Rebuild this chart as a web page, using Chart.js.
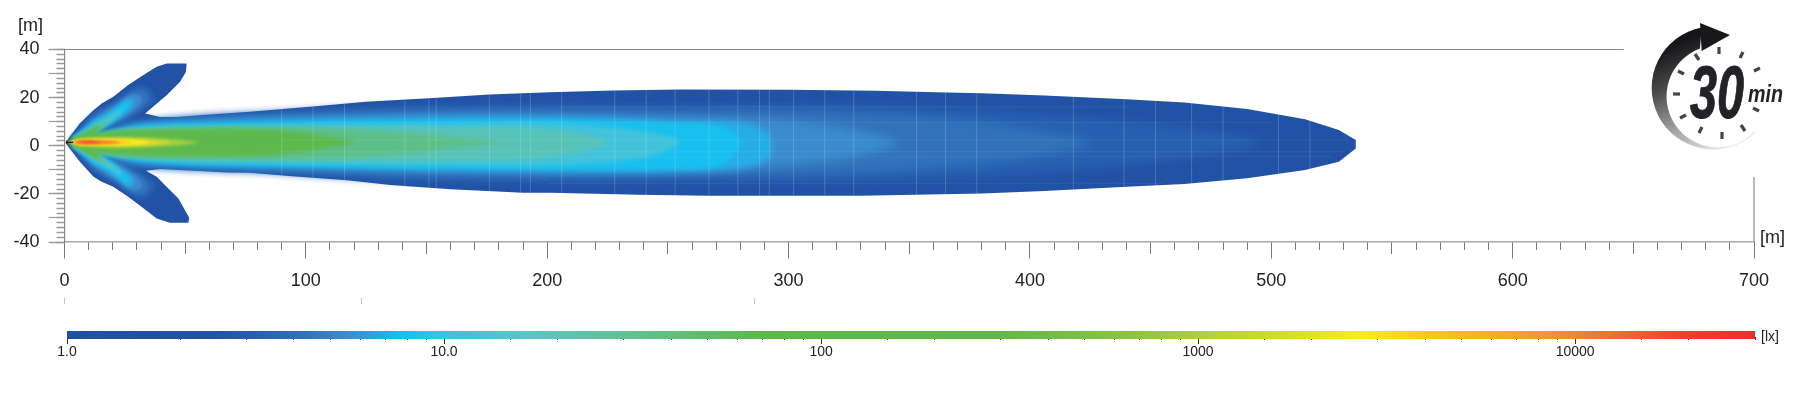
<!DOCTYPE html>
<html>
<head>
<meta charset="utf-8">
<title>Isolux 30 min</title>
<script src="https://cdn.jsdelivr.net/npm/chart.js@4"></script>
<style>
  html, body { margin: 0; padding: 0; background: #fff; }
  body { width: 1800px; height: 408px; position: relative; overflow: hidden; font-family: "Liberation Sans", Arial, sans-serif; color: #222; }
  canvas { position: absolute; left: 0; }
  #beam { top: 0; }
  #bar { top: 320px; }
  .unit { position: absolute; font-size: 18px; line-height: 20px; }
  .mark { position: absolute; top: 298px; width: 1px; height: 6px; background: #c4c4c4; }
  svg { position: absolute; left: 0; top: 0; }
</style>
</head>
<body>
<canvas id="beam" width="1800" height="408"></canvas>
<canvas id="bar" width="1800" height="50"></canvas>

<div class="unit" style="left:18px;top:15px">[m]</div>
<div class="unit" style="left:1760px;top:227px">[m]</div>
<div class="unit" style="left:1761px;top:329px;font-size:14px;line-height:15px">[lx]</div>
<div class="mark" style="left:64px"></div>
<div class="mark" style="left:361px"></div>
<div class="mark" style="left:754px"></div>

<!-- 30 min logo -->
<svg width="1800" height="408">
  <defs>
    <linearGradient id="sweep" gradientUnits="userSpaceOnUse" x1="1695" y1="35" x2="1745" y2="150">
      <stop offset="0" stop-color="#151517"/>
      <stop offset="0.3" stop-color="#4a4a4c"/>
      <stop offset="0.55" stop-color="#8d8d8d"/>
      <stop offset="0.85" stop-color="#d4d4d4"/>
      <stop offset="1" stop-color="#fafafa"/>
    </linearGradient>
  </defs>
  <path d="M1755,133 A61.5,61.5 0 1 1 1701.7,27.5 L1700,48.5 A51,51 0 1 0 1755,131 Z" fill="url(#sweep)"/>
  <polygon points="1700,23 1730,35 1701.7,51" fill="#18181b"/>
  <g stroke="#444" stroke-width="3.2">
    <line x1="1719" y1="47" x2="1719" y2="54"/>
    <line x1="1743" y1="52" x2="1740" y2="58"/>
    <line x1="1760" y1="68" x2="1754" y2="71"/>
    <line x1="1759" y1="111" x2="1753" y2="108"/>
    <line x1="1745" y1="131" x2="1741" y2="125"/>
    <line x1="1722" y1="139" x2="1722" y2="132"/>
    <line x1="1699" y1="133" x2="1702" y2="127"/>
    <line x1="1680" y1="118" x2="1686" y2="115"/>
    <line x1="1673" y1="94" x2="1680" y2="94"/>
    <line x1="1678" y1="71" x2="1684" y2="74"/>
    <line x1="1695" y1="54" x2="1699" y2="60"/>
  </g>
  <text x="1690" y="118" font-family="'Liberation Sans Narrow','Liberation Sans'" font-weight="700" font-style="italic" font-size="74" textLength="54" lengthAdjust="spacingAndGlyphs" fill="#232327" stroke="#232327" stroke-width="1">30</text>
  <text x="1748" y="102" font-family="'Liberation Sans Narrow','Liberation Sans'" font-weight="700" font-style="italic" font-size="24" textLength="35" lengthAdjust="spacingAndGlyphs" fill="#232327">min</text>
</svg>

<script>
// axis ticks
const xTicks = [0, 100, 200, 300, 400, 500, 600, 700];
const yTicks = [-40, -20, 0, 20, 40];
const luxTicks = [1, 10, 100, 1000, 10000];
const luxLabels = ['1.0', '10.0', '100', '1000', '10000'];

// frame lines that stop short of the plot edges
const topLine = [[0, 40], [646, 40]];
const rightLine = [[700, -40], [700, -13]];

// colour bar
const luxStops = [1, 2.5, 4, 5.5, 7.7, 10, 17, 40, 70, 300, 700, 1100, 2000, 2700, 4000, 8000, 12000, 20000, 30000];
const luxColors = ['#1f4fa3', '#2053a6', '#2e6cb8', '#3b8bd0', '#12c0f2', '#38c4e0', '#5cc5c4', '#5fc07e', '#5cb84a', '#62b946', '#8fc540', '#b5d336', '#dfe226', '#f8ec20', '#fdc820', '#f49a2c', '#f0752f', '#ee3c2d', '#ee2e2e'];

// iso-lux outlines, [distance m, offset m], palest first
const outline = [[0.5, 1.5], [6.4, 9.3], [12, 14.8], [15.4, 17.6], [20.2, 20.4], [26.4, 25.2], [32.7, 29.4], [38.2, 32.8], [42.3, 34.2], [50.6, 34.2], [50.3, 30.7], [47.9, 26.6], [42.3, 21], [37.5, 16.9], [33.4, 13.4], [39.6, 12], [46.5, 12], [60.3, 13], [76.8, 14.1], [101.7, 16.2], [125, 18.3], [151, 19.7], [176, 21.3], [201, 22.2], [227, 23], [255, 23.4], [300, 23.3], [336, 22.9], [361, 22.2], [380, 21.8], [406, 20.9], [440, 19.3], [464, 18], [490, 15.3], [514, 11], [528, 6.5], [535, 2.4], [535, -1.1], [528, -6.6], [514, -10.1], [490, -13.5], [464, -15.9], [440, -17], [406, -18.8], [380, -19.8], [330, -20.8], [267, -20.8], [238, -20.4], [201, -19.5], [190, -19.5], [160, -18.1], [135, -16.3], [117, -14.3], [93, -12.6], [76.8, -11.2], [67.2, -11.1], [56.1, -10.5], [39.6, -9.7], [33.8, -10.4], [38.2, -12.9], [42.3, -17], [47.2, -21.9], [51.7, -30], [51.3, -32], [43.7, -32], [38.2, -30.2], [32.7, -26], [26.4, -21.2], [20.2, -17], [15.4, -15], [12, -12.9], [6.4, -6.6], [0.5, 1]];

const main1 = [[20, 6.5], [34, 9.5], [60, 12], [80, 13], [110, 15], [150, 16.5], [200, 17], [250, 16.5], [300, 17], [350, 16], [400, 13.5], [450, 9], [490, 3.5], [495, 1.2], [490, -1], [450, -7], [400, -11.5], [350, -14], [300, -15], [250, -14.5], [200, -15], [150, -14.5], [110, -12.5], [80, -10], [60, -9.5], [34, -8], [20, -5]];
const main2 = [[20, 6], [34, 9], [60, 11.5], [100, 13], [150, 14.5], [200, 15], [250, 14.5], [300, 14.5], [350, 12.5], [400, 7], [425, 1], [400, -5], [350, -10], [300, -12], [250, -12.5], [200, -12.5], [150, -12], [100, -10.5], [60, -9], [34, -7.5], [20, -4.5]];
const main3 = [[15, 4.5], [30, 9], [60, 10.8], [100, 12], [150, 13], [200, 13], [250, 12], [300, 10.5], [330, 6], [345, 1.2], [330, -4], [300, -8], [250, -11], [200, -11.5], [150, -11], [100, -9.5], [60, -8.7], [30, -7], [15, -3]];
const main4 = [[15, 4.3], [30, 8.5], [60, 10], [100, 11], [150, 11.8], [200, 11.8], [250, 10.5], [280, 9.5], [292, 5], [292, -5], [280, -9.5], [250, -10.7], [200, -10.7], [150, -10], [100, -9], [60, -8.3], [30, -6.5], [15, -2.8]];
const main5 = [[12, 3.8], [30, 8], [60, 9.2], [100, 10], [150, 10.5], [200, 10.8], [250, 9.5], [272, 8], [280, 1.5], [272, -8], [250, -9.7], [200, -9.8], [150, -9.5], [100, -8.5], [60, -7.8], [30, -6], [12, -2.5]];
const main6 = [[10, 3.5], [30, 7.2], [60, 8.2], [100, 8.8], [150, 9], [200, 9.3], [240, 6], [255, 1.5], [240, -5], [200, -8.3], [150, -8], [100, -7.5], [60, -7], [30, -5.2], [10, -2]];
const main7 = [[8, 3.2], [25, 6.5], [50, 7.8], [100, 8], [150, 7.8], [200, 7], [225, 1.5], [200, -5], [150, -6.5], [100, -6.5], [50, -6], [25, -4.5], [8, -1.5]];
const main8 = [[6, 3], [20, 5.8], [40, 7], [100, 7.5], [140, 5.5], [165, 3], [180, 1.5], [165, -0.5], [140, -3.5], [100, -5.5], [40, -5], [20, -3.7], [6, -1]];
const main9 = [[1.5, 1.5], [5, 3.5], [15, 5.5], [30, 6.5], [60, 7.2], [88, 6.5], [108, 4], [120, 1.5], [108, -1], [88, -3.8], [60, -4.5], [30, -4], [15, -3], [5, -0.8]];

const upper1 = [[2, 3], [6, 8], [11.5, 13.5], [15.5, 16], [20.5, 18.8], [26.5, 23], [32, 25.5], [36, 23], [38, 19], [34, 15.5], [28, 11], [20, 7.5], [10, 3]];
const upper2 = [[3, 3], [7, 7.5], [12, 12.5], [17, 15.5], [22, 18.5], [28, 22.5], [33, 23], [35, 20], [33, 16.5], [28, 13], [23, 10], [18, 7.5], [10, 3.5]];
const upper3 = [[3, 3], [8, 7.5], [12.5, 11.5], [17, 14.5], [22, 17.5], [27, 21], [31, 21], [32, 18.5], [29, 15], [24, 11.5], [19, 8.5], [10, 3.5]];
const upper4 = [[3, 3], [8, 7], [13, 11], [17.5, 13.5], [22, 16.5], [26, 19.5], [28.5, 19], [28, 16], [24, 12.5], [19, 9], [10, 3.5]];
const upper5 = [[3, 3], [8, 6.5], [13, 10.5], [18, 13], [22, 15.8], [25, 18], [27, 17.5], [25.5, 15], [22, 12], [18, 9], [10, 3.5]];
const upper6 = [[3, 3], [8, 6], [13, 9.5], [18, 12], [22, 14.5], [24, 15], [23, 13], [19, 10], [15, 7.5], [9, 3.5]];
const upper7 = [[3, 3], [8, 5.5], [13, 8.8], [17, 10.8], [20, 12.5], [20.5, 11.5], [17, 9], [14, 6.5], [9, 3.5]];
const upper8 = [[3, 3], [8, 5], [12, 7.8], [15.5, 9.5], [17, 9.2], [14, 6.5], [9, 3.5]];
const upper9 = [[2.5, 2.5], [7, 4.6], [11, 7], [14, 8.2], [14.5, 7.2], [11, 4.5], [8, 3]];

const lower1 = [[2, 0], [6, -5], [11.5, -10.5], [15.5, -13], [20.5, -16], [26.5, -20], [32, -22.5], [36, -20], [38, -16], [34, -12.5], [28, -8], [20, -4.7], [10, -0.2]];
const lower2 = [[3, 0], [7, -4.7], [12, -9.7], [17, -12.7], [22, -15.7], [28, -19.7], [33, -20.2], [35, -17.2], [33, -13.7], [28, -10.2], [23, -7.2], [18, -4.7], [10, -0.7]];
const lower3 = [[3, 0], [8, -4.7], [12.5, -8.7], [17, -11.7], [22, -14.7], [27, -18.2], [31, -18.2], [32, -15.7], [29, -12.2], [24, -8.7], [19, -5.7], [10, -0.7]];
const lower4 = [[3, 0], [8, -4.2], [13, -8.2], [17.5, -10.7], [22, -13.7], [26, -16.7], [28.5, -16.2], [28, -13.2], [24, -9.7], [19, -6.2], [10, -0.7]];
const lower5 = [[3, 0], [8, -3.7], [13, -7.7], [18, -10.2], [22, -13], [25, -15.2], [27, -14.7], [25.5, -12.2], [22, -9.2], [18, -6.2], [10, -0.7]];
const lower6 = [[3, 0], [8, -3.2], [13, -6.7], [18, -9.2], [22, -11.7], [24, -12.2], [23, -10.2], [19, -7.2], [15, -4.7], [9, -0.7]];
const lower7 = [[3, 0], [8, -2.7], [13, -6], [17, -8], [20, -9.7], [20.5, -8.7], [17, -6.2], [14, -3.7], [9, -0.7]];
const lower8 = [[3, 0], [8, -2.2], [12, -5], [15.5, -6.7], [17, -6.4], [14, -3.7], [9, -0.7]];
const lower9 = [[2.5, 0.3], [7, -1.8], [11, -4.2], [14, -5.4], [14.5, -4.4], [11, -1.7], [8, -0.2]];

const core1 = [[2, 1.5], [6, 3], [20, 3.6], [35, 3.3], [46, 2.6], [55, 1.4], [46, 0.2], [35, -0.6], [20, -0.9], [6, -0.3]];
const core2 = [[1.5, 1.5], [7, 2.6], [20, 3], [32, 2.7], [38, 2.1], [44, 1.4], [38, 0.7], [32, 0.2], [20, -0.1], [7, 0.3]];
const core3 = [[1, 1.5], [7, 2.4], [20, 2.6], [30, 2.3], [35, 1.4], [30, 0.5], [20, 0.3], [7, 0.4]];
const core4 = [[1, 1.4], [7, 2.3], [18, 2.4], [24, 2], [28, 1.4], [24, 0.8], [18, 0.5], [7, 0.5]];
const core5 = [[3.5, 1.4], [6, 2.2], [14, 2.2], [20, 1.9], [23, 1.4], [20, 0.9], [14, 0.6], [6, 0.6]];
const core6 = [[5, 1.6], [8, 2], [13, 1.9], [15, 1.4], [13, 1], [8, 0.9]];

// the small cross at the lamp
const lampH = [[0.6, 1.4], [3.6, 1.4]];
const lampV = [[1, 0.6], [1, 2.3]];

// faint seams of the measuring grid showing through the beam
const seamX = [90, 103, 116, 141, 151, 154, 176, 189, 193, 206, 228, 241, 253, 267, 279, 288, 292, 302, 315, 327, 353, 365, 378, 418, 439, 452, 467, 480, 503, 516];
const seamTop = [15.3, 16.3, 17.4, 19, 19.7, 19.9, 21.3, 21.8, 22, 22.3, 23, 23.2, 23.4, 23.4, 23.4, 23.3, 23.3, 23.3, 23.1, 23, 22.4, 22.1, 21.8, 20.4, 19.3, 18.7, 17.8, 16.5, 13, 10.5];
const seamBottom = [-12.3, -13.3, -14.2, -16.8, -17.4, -17.6, -19, -19.5, -19.5, -19.7, -20.4, -20.5, -20.8, -20.8, -20.8, -20.8, -20.8, -20.8, -20.8, -20.8, -20.3, -20, -19.8, -18.2, -17, -16.5, -15.7, -14.7, -11.8, -9.7];
const seamY = [16.2, 9.6, 2.4, -2.5, -4.6, -15.6];
const seamFrom = [205, 100, 90, 90, 90, 200];
const seamTo = [440, 500, 532, 530, 525, 455];

const levelColors = ['#2152a6', '#2760b0', '#3272bc', '#3a8cce', '#25aee6', '#18c0f0', '#42c3da', '#58c3b8', '#5dbf88', '#5eb94c', '#a9d03a', '#dfe028', '#f9ea22', '#fcc224', '#f1802e', '#e9582c'];
const levelBlur = [0, 4, 5, 5, 3, 2, 2, 2, 2, 2, 1.5, 1.5, 1, 1, 1, 1];
const levelShapes = [
  [outline],
  [main1, upper1, lower1],
  [main2, upper2, lower2],
  [main3, upper3, lower3],
  [main4, upper4, lower4],
  [main5, upper5, lower5],
  [main6, upper6, lower6],
  [main7, upper7, lower7],
  [main8, upper8, lower8],
  [main9, upper9, lower9],
  [core1], [core2], [core3], [core4], [core5], [core6]
];

const toXY = pts => pts.map(p => ({x: p[0], y: p[1]}));

let datasets = [];
let order = 1000;
levelShapes.forEach((shapes, i) => {
  shapes.forEach((s, j) => {
    datasets.push({
      data: toXY(s),
      order: order--,
      fill: 'shape',
      backgroundColor: levelColors[i],
      borderWidth: 0,
      pointRadius: 0,
      tension: i == 0 ? 0 : 0.3,
      // lobes are narrow, they only take a little softening
      softness: j == 0 ? levelBlur[i] : Math.min(levelBlur[i], 1.6)
    });
  });
});

let seams = [];
seamX.forEach((x, i) => {
  seams.push({x: x, y: seamTop[i]}, {x: x, y: seamBottom[i]}, {x: x, y: NaN});
});
seamY.forEach((y, i) => {
  seams.push({x: seamFrom[i], y: y}, {x: seamTo[i], y: y}, {x: seamTo[i], y: NaN});
});
datasets.push({data: seams, order: 2, fill: false, borderColor: 'rgba(255,255,255,0.07)', borderWidth: 1, pointRadius: 0, spanGaps: false});

const frame = (pts, color, w) => ({data: toXY(pts), order: 0, fill: false, borderColor: color, borderWidth: w, pointRadius: 0, clip: false});
datasets.push(frame(topLine, '#8a8a8a', 1.2));
datasets.push(frame(rightLine, '#a0a0a0', 1.5));
datasets.push(frame(lampH, '#222', 1.5));
datasets.push(frame(lampV, '#222', 1));

// the filler paints before any hook of ours, so the blur for a dataset is set after the one before it
const softBands = {
  id: 'softBands',
  afterDatasetDraw(chart, args) {
    const next = chart.data.datasets[args.index + 1];
    chart.ctx.filter = next && next.softness ? 'blur(' + next.softness + 'px)' : 'none';
  },
  afterDatasetsDraw(chart) { chart.ctx.filter = 'none'; }
};

const axisFont = {family: '"Liberation Sans", Arial, sans-serif', size: 18};
const hiddenLabels = {display: true, color: 'rgba(0,0,0,0)', font: {size: 1}, autoSkip: false, maxRotation: 0, padding: 0};
const xRange = {type: 'linear', min: 0, max: 700, position: {y: -40}};
const yRange = {type: 'linear', min: -40, max: 40, position: {x: 0}};
const tickGrid = (len, color, w) => ({drawOnChartArea: false, tickLength: len, tickColor: color, tickWidth: w});

new Chart(document.getElementById('beam'), {
  type: 'line',
  data: {datasets: datasets},
  plugins: [softBands],
  options: {
    responsive: false,
    animation: false,
    events: [],
    layout: {padding: {left: 0, right: 46, top: 49.5, bottom: 166}},
    plugins: {legend: {display: false}, tooltip: {enabled: false}},
    scales: {
      x: {
        ...xRange,
        afterBuildTicks: s => { s.ticks = xTicks.map(v => ({value: v})); },
        grid: tickGrid(16, '#777', 1),
        border: {color: '#aaa', width: 1.5},
        ticks: {font: axisFont, color: '#222', padding: 12, maxRotation: 0, autoSkip: false}
      },
      xMid: {
        ...xRange,
        ticks: {...hiddenLabels, stepSize: 50},
        grid: tickGrid(12, '#777', 1),
        border: {display: false}
      },
      xMinor: {
        ...xRange,
        ticks: {...hiddenLabels, stepSize: 10},
        grid: tickGrid(8, '#777', 1),
        border: {display: false}
      },
      y: {
        type: 'linear', min: -40, max: 40, position: 'left',
        afterFit: s => { s.width = 64.5; },
        afterBuildTicks: s => { s.ticks = yTicks.map(v => ({value: v})); },
        grid: tickGrid(16, '#999', 1.2),
        border: {color: '#8a8a8a', width: 1.2},
        ticks: {font: axisFont, color: '#222', padding: 9, autoSkip: false}
      },
      yMid: {
        ...yRange,
        ticks: {...hiddenLabels, stepSize: 10},
        grid: tickGrid(16, '#999', 1.2),
        border: {display: false}
      },
      yMinor: {
        ...yRange,
        ticks: {...hiddenLabels, stepSize: 2},
        grid: tickGrid(8.5, '#999', 1.5),
        border: {display: false}
      }
    }
  }
});

// colour bar
function barGradient(ctx) {
  const chart = ctx.chart;
  const scale = chart.scales.lux;
  if (!scale || !chart.chartArea) return luxColors[0];
  const left = scale.getPixelForValue(luxStops[0]);
  const right = scale.getPixelForValue(luxStops[luxStops.length - 1]);
  const grad = chart.ctx.createLinearGradient(left, 0, right, 0);
  luxStops.forEach((v, i) => grad.addColorStop((scale.getPixelForValue(v) - left) / (right - left), luxColors[i]));
  return grad;
}

const luxRange = {type: 'logarithmic', axis: 'x', min: 1, max: 30000, position: {y: 0}};

new Chart(document.getElementById('bar'), {
  type: 'bar',
  data: {
    datasets: [{
      data: [{x: [1, 30000], y: 0.5}],
      backgroundColor: barGradient,
      barThickness: 8,
      xAxisID: 'lux',
      yAxisID: 'y'
    }]
  },
  options: {
    indexAxis: 'y',
    responsive: false,
    animation: false,
    events: [],
    layout: {padding: {left: 67, right: 45, top: 11, bottom: 31}},
    plugins: {legend: {display: false}, tooltip: {enabled: false}},
    scales: {
      y: {type: 'linear', min: 0, max: 1, display: false},
      lux: {
        ...luxRange,
        afterBuildTicks: s => { s.ticks = luxTicks.map(v => ({value: v})); },
        grid: tickGrid(7, '#333', 1),
        border: {display: false},
        ticks: {
          font: {family: axisFont.family, size: 14},
          color: '#222',
          padding: 0,
          maxRotation: 0,
          autoSkip: false,
          callback: v => luxLabels[luxTicks.indexOf(v)]
        }
      },
      luxMinor: {
        ...luxRange,
        grid: tickGrid(3, '#333', 1),
        border: {display: false},
        ticks: {...hiddenLabels, callback: () => ''}
      }
    }
  }
});
</script>
</body>
</html>
